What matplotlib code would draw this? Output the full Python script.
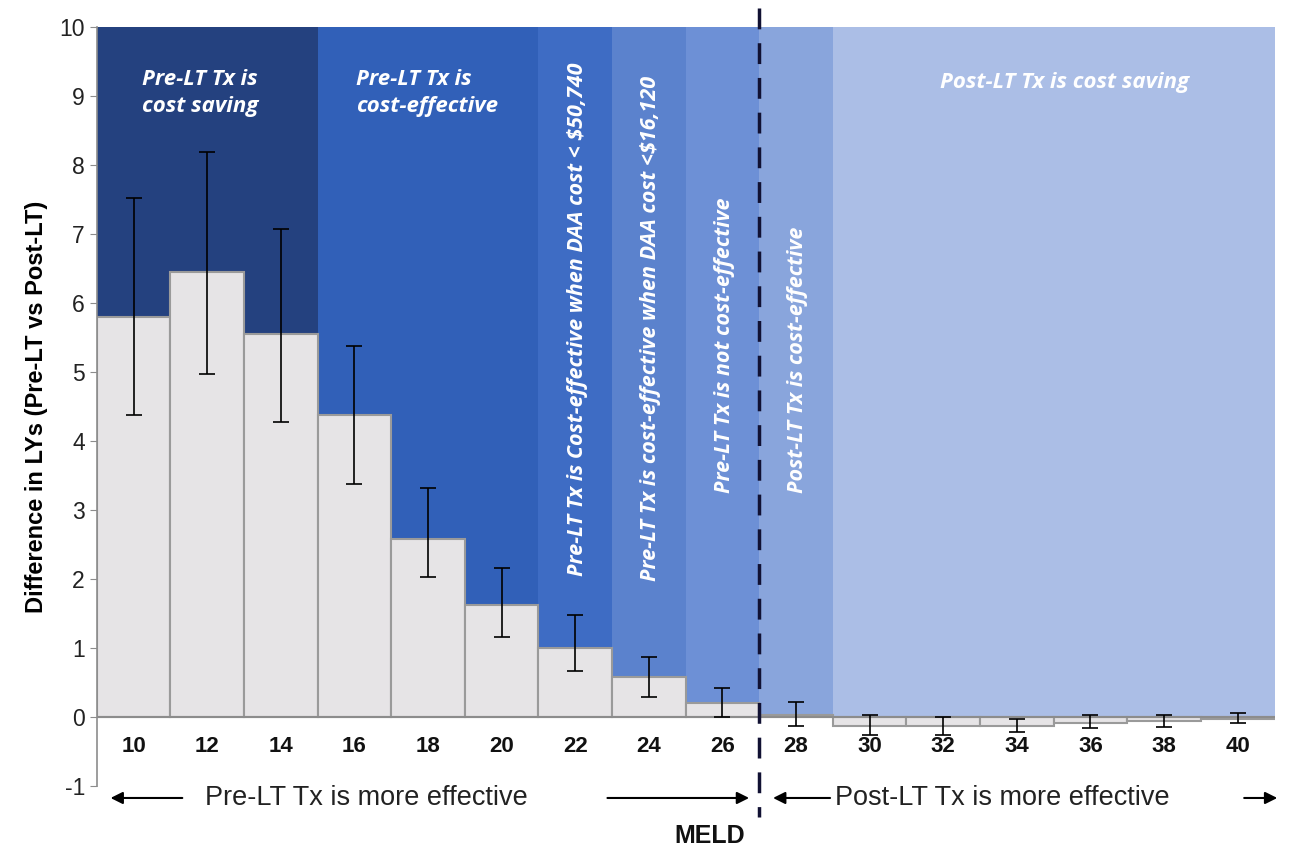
import matplotlib.pyplot as plt

meld = [10, 12, 14, 16, 18, 20, 22, 24, 26, 28, 30, 32, 34, 36, 38, 40]
diff_ly = [5.8, 6.45, 5.55, 4.38, 2.58, 1.62, 1.0, 0.59, 0.2, 0.03, -0.13, -0.13, -0.12, -0.08, -0.05, -0.03]
err_hi = [7.53, 8.19, 7.08, 5.38, 3.32, 2.17, 1.48, 0.88, 0.42, 0.22, 0.03, 0.0, -0.02, 0.03, 0.03, 0.06]
err_lo = [4.38, 4.97, 4.28, 3.38, 2.03, 1.16, 0.67, 0.30, 0.0, -0.12, -0.26, -0.26, -0.22, -0.16, -0.14, -0.09]

# background regions (MELD start, end, colour)
band_start = [9, 15, 21, 23, 25, 27, 29]
band_end = [15, 21, 23, 25, 27, 29, 41]
band_color = ['#24417f', '#3160b8', '#3e6cc4', '#5b82cd', '#6d90d6', '#89a5dc', '#abbee6']

plt.rcParams['font.family'] = ['Liberation Sans', 'DejaVu Sans']
plt.rcParams['axes.unicode_minus'] = False

fig = plt.figure(figsize=(12.9, 8.5), dpi=100)
ax = fig.add_axes([0.075, 0.075, 0.913, 0.893])

for s, e, c in zip(band_start, band_end, band_color):
    ax.axvspan(s, e, ymin=1 / 11, ymax=1, color=c, lw=0, zorder=0)

ax.bar(meld, diff_ly, width=2, color='#e6e4e6', edgecolor='#9a9a9a', linewidth=1.5, zorder=2)
lo = [v - l for v, l in zip(diff_ly, err_lo)]
hi = [h - v for v, h in zip(diff_ly, err_hi)]
ax.errorbar(meld, diff_ly, yerr=[lo, hi], fmt='none', ecolor='black', elinewidth=1.2,
            capsize=6, capthick=1.2, zorder=3)

ax.axhline(0, color='#8c8c8c', lw=1.5, zorder=2.5)
ax.set_xlim(9, 41)
ax.set_ylim(-1, 10)
ax.set_yticks(range(-1, 11))
ax.tick_params(axis='y', labelsize=16.5, color='#8c8c8c', length=5, labelcolor='#222222')
ax.set_xticks([])
for spine in ['top', 'right', 'bottom']:
    ax.spines[spine].set_visible(False)
ax.spines['left'].set_color('#8c8c8c')
ax.spines['left'].set_linewidth(1.2)

for m in meld:
    ax.text(m, -0.42, str(m), ha='center', va='center', fontsize=16, fontweight='bold', color='#111111')

ax.set_ylabel('Difference in LYs (Pre-LT vs Post-LT)', fontsize=17, fontweight='bold', labelpad=8)

band_font = dict(color='white', fontstyle='italic', fontweight='bold', family=['Open Sans', 'DejaVu Sans'])
ax.text(11.8, 9.05, 'Pre-LT Tx is\ncost saving', ha='center', va='center', fontsize=16,
        linespacing=1.4, **band_font)
ax.text(16.05, 9.05, 'Pre-LT Tx is\ncost-effective', ha='left', va='center', fontsize=16,
        linespacing=1.4, **band_font)
ax.text(22.05, 2.05, 'Pre-LT Tx is Cost-effective when DAA cost < $50,740', rotation=90,
        ha='center', va='bottom', fontsize=15.5, **band_font)
ax.text(24.05, 1.97, 'Pre-LT Tx is cost-effective when DAA cost <$16,120', rotation=90,
        ha='center', va='bottom', fontsize=15.5, **band_font)
ax.text(26.05, 3.25, 'Pre-LT Tx is not cost-effective', rotation=90,
        ha='center', va='bottom', fontsize=15.5, **band_font)
ax.text(28.05, 3.25, 'Post-LT Tx is cost-effective', rotation=90,
        ha='center', va='bottom', fontsize=15.5, **band_font)
ax.text(35.3, 9.2, 'Post-LT Tx is cost saving', ha='center', va='center', fontsize=16, **band_font)

# dashed MELD 27 divider
ax.plot([27, 27], [10.28, -1.45], color='#111133', lw=2.5, ls=(0, (6, 4)), clip_on=False, zorder=5)

# effectiveness arrows below axis
yy = -1.17
arr = dict(arrowstyle='-|>', color='black', lw=1.5, mutation_scale=18)
ax.annotate('', xy=(9.3, yy), xytext=(11.4, yy), arrowprops=arr, annotation_clip=False)
ax.annotate('', xy=(26.8, yy), xytext=(22.8, yy), arrowprops=arr, annotation_clip=False)
ax.annotate('', xy=(27.3, yy), xytext=(29.0, yy), arrowprops=arr, annotation_clip=False)
ax.annotate('', xy=(41.15, yy), xytext=(40.1, yy), arrowprops=arr, annotation_clip=False)
ax.text(11.95, yy, 'Pre-LT Tx is more effective', ha='left', va='center', fontsize=19.5, color='#222222')
ax.text(29.05, yy, 'Post-LT Tx is more effective', ha='left', va='center', fontsize=19.5, color='#222222')
ax.text(25.65, -1.72, 'MELD', ha='center', va='center', fontsize=18, fontweight='bold', color='#111111')

fig.savefig('out.png', dpi=100)
